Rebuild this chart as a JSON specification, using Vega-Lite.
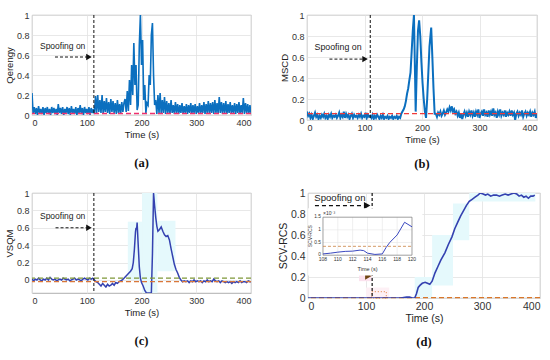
{
"$schema": "https://vega.github.io/schema/vega-lite/v6.json",
"padding": {"left": 4, "top": 10, "right": 4, "bottom": 4},
"spacing": 16,
"datasets": {
"qa": [
{"t":0,"v":0.22},{"t":2,"v":0.02},{"t":4,"v":0.08},{"t":6,"v":0.01},{"t":8,"v":0.07},{"t":10,"v":0.0},{"t":12,"v":0.09},{"t":14,"v":0.02},{"t":16,"v":0.06},{"t":18,"v":0.01},
{"t":20,"v":0.08},{"t":22,"v":0.0},{"t":24,"v":0.07},{"t":26,"v":0.02},{"t":28,"v":0.08},{"t":30,"v":0.01},{"t":32,"v":0.06},{"t":34,"v":0.0},{"t":36,"v":0.08},{"t":38,"v":0.02},
{"t":40,"v":0.07},{"t":42,"v":0.01},{"t":44,"v":0.06},{"t":46,"v":0.0},{"t":48,"v":0.11},{"t":50,"v":0.02},{"t":52,"v":0.07},{"t":54,"v":0.01},{"t":56,"v":0.08},{"t":58,"v":0.0},
{"t":60,"v":0.06},{"t":62,"v":0.02},{"t":64,"v":0.08},{"t":66,"v":0.01},{"t":68,"v":0.07},{"t":70,"v":0.0},{"t":72,"v":0.09},{"t":74,"v":0.02},{"t":76,"v":0.06},{"t":78,"v":0.01},
{"t":80,"v":0.08},{"t":82,"v":0.0},{"t":84,"v":0.07},{"t":86,"v":0.02},{"t":88,"v":0.1},{"t":90,"v":0.01},{"t":92,"v":0.07},{"t":94,"v":0.0},{"t":96,"v":0.08},{"t":98,"v":0.02},
{"t":100,"v":0.06},{"t":102,"v":0.01},{"t":104,"v":0.08},{"t":106,"v":0.0},{"t":108,"v":0.07},{"t":110,"v":0.02},{"t":112,"v":0.06},{"t":114,"v":0.01},{"t":116,"v":0.19},{"t":118,"v":0.02},
{"t":120,"v":0.2},{"t":122,"v":0.03},{"t":124,"v":0.15},{"t":126,"v":0.02},{"t":128,"v":0.2},{"t":130,"v":0.01},{"t":132,"v":0.14},{"t":134,"v":0.03},{"t":136,"v":0.17},{"t":138,"v":0.02},
{"t":140,"v":0.13},{"t":142,"v":0.01},{"t":144,"v":0.16},{"t":146,"v":0.03},{"t":148,"v":0.14},{"t":150,"v":0.02},{"t":152,"v":0.12},{"t":154,"v":0.01},{"t":156,"v":0.15},{"t":158,"v":0.02},
{"t":160,"v":0.11},{"t":162,"v":0.01},{"t":164,"v":0.13},{"t":166,"v":0.03},{"t":168,"v":0.12},{"t":170,"v":0.16},{"t":172,"v":0.03},{"t":174,"v":0.24},{"t":176,"v":0.04},{"t":178,"v":0.35},
{"t":180,"v":0.1},{"t":182,"v":0.5},{"t":184,"v":0.2},{"t":186,"v":0.72},{"t":188,"v":0.3},{"t":190,"v":0.5},{"t":192,"v":0.05},{"t":194,"v":0.1},{"t":196,"v":0.7},{"t":198,"v":1.0},
{"t":200,"v":0.5},{"t":202,"v":0.75},{"t":204,"v":0.15},{"t":206,"v":0.3},{"t":208,"v":0.02},{"t":210,"v":0.12},{"t":212,"v":0.1},{"t":214,"v":0.4},{"t":216,"v":0.3},{"t":218,"v":0.8},
{"t":220,"v":0.92},{"t":222,"v":0.4},{"t":224,"v":0.1},{"t":226,"v":0.15},{"t":228,"v":0.01},{"t":230,"v":0.2},{"t":232,"v":0.02},{"t":234,"v":0.22},{"t":236,"v":0.01},{"t":238,"v":0.15},
{"t":240,"v":0.02},{"t":242,"v":0.18},{"t":244,"v":0.01},{"t":246,"v":0.14},{"t":248,"v":0.02},{"t":250,"v":0.12},{"t":252,"v":0.01},{"t":254,"v":0.15},{"t":256,"v":0.02},{"t":258,"v":0.1},
{"t":260,"v":0.01},{"t":262,"v":0.13},{"t":264,"v":0.02},{"t":266,"v":0.11},{"t":268,"v":0.01},{"t":270,"v":0.1},{"t":272,"v":0.02},{"t":274,"v":0.12},{"t":276,"v":0.01},{"t":278,"v":0.09},
{"t":280,"v":0.02},{"t":282,"v":0.11},{"t":284,"v":0.01},{"t":286,"v":0.1},{"t":288,"v":0.02},{"t":290,"v":0.12},{"t":292,"v":0.01},{"t":294,"v":0.1},{"t":296,"v":0.02},{"t":298,"v":0.11},
{"t":300,"v":0.01},{"t":302,"v":0.09},{"t":304,"v":0.02},{"t":306,"v":0.12},{"t":308,"v":0.01},{"t":310,"v":0.1},{"t":312,"v":0.02},{"t":314,"v":0.13},{"t":316,"v":0.01},{"t":318,"v":0.11},
{"t":320,"v":0.02},{"t":322,"v":0.14},{"t":324,"v":0.01},{"t":326,"v":0.12},{"t":328,"v":0.02},{"t":330,"v":0.13},{"t":332,"v":0.01},{"t":334,"v":0.15},{"t":336,"v":0.02},{"t":338,"v":0.12},
{"t":340,"v":0.01},{"t":342,"v":0.18},{"t":344,"v":0.02},{"t":346,"v":0.13},{"t":348,"v":0.01},{"t":350,"v":0.12},{"t":352,"v":0.02},{"t":354,"v":0.14},{"t":356,"v":0.01},{"t":358,"v":0.11},
{"t":360,"v":0.02},{"t":362,"v":0.13},{"t":364,"v":0.01},{"t":366,"v":0.1},{"t":368,"v":0.02},{"t":370,"v":0.12},{"t":372,"v":0.01},{"t":374,"v":0.11},{"t":376,"v":0.02},{"t":378,"v":0.13},
{"t":380,"v":0.01},{"t":382,"v":0.1},{"t":384,"v":0.02},{"t":386,"v":0.17},{"t":388,"v":0.01},{"t":390,"v":0.12},{"t":392,"v":0.02},{"t":394,"v":0.11},{"t":396,"v":0.01},{"t":398,"v":0.1},{"t":400,"v":0.02}
],
"qb": [
{"t":0,"v":0.08},{"t":2,"v":0.04},{"t":4,"v":0.06},{"t":6,"v":0.02},{"t":8,"v":0.05},{"t":10,"v":0.01},{"t":12,"v":0.04},{"t":14,"v":0.07},{"t":16,"v":0.03},{"t":18,"v":0.05},
{"t":20,"v":0.01},{"t":22,"v":0.04},{"t":24,"v":0.02},{"t":26,"v":0.05},{"t":28,"v":0.03},{"t":30,"v":0.06},{"t":32,"v":0.02},{"t":34,"v":0.04},{"t":36,"v":0.01},{"t":38,"v":0.05},
{"t":40,"v":0.03},{"t":42,"v":0.06},{"t":44,"v":0.02},{"t":46,"v":0.04},{"t":48,"v":0.03},{"t":50,"v":0.05},{"t":52,"v":0.02},{"t":54,"v":0.04},{"t":56,"v":0.07},{"t":58,"v":0.02},
{"t":60,"v":0.05},{"t":62,"v":0.03},{"t":64,"v":0.08},{"t":66,"v":0.02},{"t":68,"v":0.06},{"t":70,"v":0.03},{"t":72,"v":0.05},{"t":74,"v":0.01},{"t":76,"v":0.04},{"t":78,"v":0.06},
{"t":80,"v":0.02},{"t":82,"v":0.05},{"t":84,"v":0.03},{"t":86,"v":0.04},{"t":88,"v":0.02},{"t":90,"v":0.05},{"t":92,"v":0.03},{"t":94,"v":0.06},{"t":96,"v":0.02},{"t":98,"v":0.04},
{"t":100,"v":0.03},{"t":102,"v":0.07},{"t":104,"v":0.02},{"t":106,"v":0.05},{"t":108,"v":0.03},{"t":110,"v":0.04},{"t":112,"v":0.02},{"t":114,"v":0.05},{"t":116,"v":0.01},{"t":118,"v":0.04},
{"t":120,"v":0.02},{"t":122,"v":0.05},{"t":124,"v":0.03},{"t":126,"v":0.01},{"t":128,"v":0.04},{"t":130,"v":0.02},{"t":132,"v":0.05},{"t":134,"v":0.01},{"t":136,"v":0.03},{"t":138,"v":0.02},
{"t":140,"v":0.04},{"t":142,"v":0.01},{"t":144,"v":0.03},{"t":146,"v":0.02},{"t":148,"v":0.04},{"t":150,"v":0.01},{"t":152,"v":0.03},{"t":154,"v":0.02},{"t":156,"v":0.04},{"t":158,"v":0.01},
{"t":160,"v":0.03},{"t":162,"v":0.02},{"t":164,"v":0.06},{"t":166,"v":0.08},{"t":168,"v":0.1},{"t":170,"v":0.13},{"t":172,"v":0.18},{"t":174,"v":0.25},{"t":176,"v":0.3},{"t":178,"v":0.38},
{"t":180,"v":0.45},{"t":182,"v":0.65},{"t":184,"v":0.85},{"t":186,"v":1.0},{"t":188,"v":0.4},{"t":189,"v":0.08},{"t":191,"v":0.5},{"t":193,"v":0.85},{"t":195,"v":0.95},{"t":197,"v":0.8},
{"t":199,"v":0.55},{"t":201,"v":0.35},{"t":203,"v":0.2},{"t":205,"v":0.08},{"t":207,"v":0.02},{"t":209,"v":0.2},{"t":211,"v":0.45},{"t":213,"v":0.7},{"t":216,"v":0.88},{"t":218,"v":0.6},
{"t":220,"v":0.3},{"t":222,"v":0.06},{"t":224,"v":0.06},{"t":226,"v":0.03},{"t":228,"v":0.07},{"t":230,"v":0.05},{"t":232,"v":0.08},{"t":234,"v":0.04},{"t":236,"v":0.06},{"t":238,"v":0.09},
{"t":240,"v":0.05},{"t":242,"v":0.07},{"t":244,"v":0.1},{"t":246,"v":0.08},{"t":248,"v":0.12},{"t":250,"v":0.09},{"t":252,"v":0.13},{"t":254,"v":0.08},{"t":256,"v":0.1},{"t":258,"v":0.06},
{"t":260,"v":0.08},{"t":262,"v":0.04},{"t":264,"v":0.07},{"t":266,"v":0.02},{"t":268,"v":0.06},{"t":270,"v":0.01},{"t":272,"v":0.05},{"t":274,"v":0.08},{"t":276,"v":0.04},{"t":278,"v":0.07},
{"t":280,"v":0.03},{"t":282,"v":0.08},{"t":284,"v":0.05},{"t":286,"v":0.09},{"t":288,"v":0.04},{"t":290,"v":0.07},{"t":292,"v":0.03},{"t":294,"v":0.08},{"t":296,"v":0.05},{"t":298,"v":0.1},
{"t":300,"v":0.02},{"t":302,"v":0.06},{"t":304,"v":0.08},{"t":306,"v":0.04},{"t":308,"v":0.1},{"t":310,"v":0.05},{"t":312,"v":0.07},{"t":314,"v":0.03},{"t":316,"v":0.09},{"t":318,"v":0.05},
{"t":320,"v":0.08},{"t":322,"v":0.04},{"t":324,"v":0.11},{"t":326,"v":0.05},{"t":328,"v":0.07},{"t":330,"v":0.02},{"t":332,"v":0.08},{"t":334,"v":0.05},{"t":336,"v":0.1},{"t":338,"v":0.04},
{"t":340,"v":0.07},{"t":342,"v":0.05},{"t":344,"v":0.09},{"t":346,"v":0.03},{"t":348,"v":0.07},{"t":350,"v":0.05},{"t":352,"v":0.08},{"t":354,"v":0.04},{"t":356,"v":0.09},{"t":358,"v":0.05},
{"t":360,"v":0.07},{"t":362,"v":0.0},{"t":364,"v":0.06},{"t":366,"v":0.08},{"t":368,"v":0.04},{"t":370,"v":0.07},{"t":372,"v":0.05},{"t":374,"v":0.09},{"t":376,"v":0.03},{"t":378,"v":0.06},
{"t":380,"v":0.08},{"t":382,"v":0.04},{"t":384,"v":0.07},{"t":386,"v":0.05},{"t":388,"v":0.08},{"t":390,"v":0.03},{"t":392,"v":0.07},{"t":394,"v":0.05},{"t":396,"v":0.08},{"t":398,"v":0.02},{"t":400,"v":0.06}
],
"qc": [
{"t":0,"v":0.01},{"t":3,"v":-0.01},{"t":6,"v":0.01},{"t":9,"v":0.0},{"t":12,"v":0.02},{"t":15,"v":0.0},{"t":18,"v":-0.01},{"t":21,"v":0.01},{"t":24,"v":0.0},{"t":27,"v":0.02},
{"t":30,"v":0.0},{"t":33,"v":0.03},{"t":36,"v":0.01},{"t":39,"v":0.0},{"t":42,"v":0.01},{"t":45,"v":-0.01},{"t":48,"v":0.0},{"t":51,"v":0.01},{"t":54,"v":0.0},{"t":57,"v":0.02},
{"t":60,"v":0.01},{"t":63,"v":0.0},{"t":66,"v":0.01},{"t":69,"v":-0.01},{"t":72,"v":0.0},{"t":75,"v":0.01},{"t":78,"v":0.02},{"t":81,"v":0.0},{"t":84,"v":0.01},{"t":87,"v":0.0},
{"t":90,"v":-0.01},{"t":93,"v":0.01},{"t":96,"v":0.02},{"t":99,"v":0.01},{"t":102,"v":0.0},{"t":105,"v":0.02},{"t":108,"v":0.01},{"t":111,"v":0.02},{"t":114,"v":0.0},{"t":117,"v":-0.02},
{"t":120,"v":-0.03},{"t":123,"v":-0.05},{"t":126,"v":-0.07},{"t":129,"v":-0.04},{"t":132,"v":-0.06},{"t":135,"v":-0.08},{"t":138,"v":-0.05},{"t":141,"v":-0.07},{"t":144,"v":-0.06},{"t":147,"v":-0.04},
{"t":150,"v":-0.06},{"t":153,"v":-0.03},{"t":156,"v":-0.04},{"t":159,"v":-0.02},{"t":162,"v":-0.01},{"t":165,"v":0.0},{"t":168,"v":0.02},{"t":171,"v":0.04},{"t":174,"v":0.06},{"t":177,"v":0.08},
{"t":180,"v":0.1},{"t":183,"v":0.13},{"t":185,"v":0.2},{"t":187,"v":0.35},{"t":189,"v":0.55},{"t":190,"v":0.6},{"t":191,"v":0.58},{"t":192,"v":0.66},{"t":194,"v":0.4},{"t":196,"v":0.15},
{"t":198,"v":0.02},{"t":200,"v":-0.03},{"t":203,"v":-0.07},{"t":206,"v":-0.12},{"t":209,"v":-0.15},{"t":212,"v":-0.15},{"t":215,"v":-0.15},{"t":218,"v":-0.15},{"t":220,"v":0.3},{"t":222,"v":1.0},
{"t":224,"v":0.85},{"t":226,"v":0.72},{"t":228,"v":0.62},{"t":230,"v":0.56},{"t":233,"v":0.58},{"t":236,"v":0.61},{"t":239,"v":0.56},{"t":242,"v":0.52},{"t":245,"v":0.5},{"t":248,"v":0.51},
{"t":251,"v":0.46},{"t":254,"v":0.36},{"t":257,"v":0.27},{"t":260,"v":0.18},{"t":263,"v":0.12},{"t":266,"v":0.08},{"t":269,"v":0.03},{"t":272,"v":0.0},{"t":275,"v":-0.02},{"t":278,"v":-0.01},
{"t":281,"v":-0.02},{"t":284,"v":-0.01},{"t":287,"v":-0.03},{"t":290,"v":-0.01},{"t":293,"v":-0.02},{"t":296,"v":0.0},{"t":299,"v":-0.02},{"t":302,"v":-0.01},{"t":305,"v":-0.02},{"t":308,"v":-0.01},
{"t":311,"v":-0.03},{"t":314,"v":-0.01},{"t":317,"v":-0.02},{"t":320,"v":0.0},{"t":323,"v":-0.02},{"t":326,"v":-0.01},{"t":329,"v":-0.02},{"t":332,"v":0.01},{"t":335,"v":-0.01},{"t":338,"v":-0.02},
{"t":341,"v":-0.01},{"t":344,"v":-0.03},{"t":347,"v":-0.01},{"t":350,"v":-0.02},{"t":353,"v":-0.03},{"t":356,"v":-0.02},{"t":359,"v":-0.03},{"t":362,"v":-0.02},{"t":365,"v":-0.04},{"t":368,"v":-0.02},
{"t":371,"v":-0.03},{"t":374,"v":-0.02},{"t":377,"v":-0.03},{"t":380,"v":-0.01},{"t":383,"v":-0.03},{"t":386,"v":-0.02},{"t":389,"v":-0.02},{"t":392,"v":-0.03},{"t":395,"v":-0.01},{"t":398,"v":-0.02},{"t":400,"v":-0.02}
],
"qd": [
{"t":0,"v":0.0},{"t":20,"v":0.0},{"t":40,"v":0.0},{"t":60,"v":0.0},{"t":80,"v":0.0},{"t":100,"v":0.0},{"t":120,"v":0.0},{"t":140,"v":0.0},{"t":160,"v":0.0},{"t":165,"v":0.005},
{"t":170,"v":0.01},{"t":175,"v":0.008},{"t":180,"v":0.0},{"t":184,"v":0.0},{"t":187,"v":0.04},{"t":190,"v":0.1},{"t":193,"v":0.12},{"t":197,"v":0.14},{"t":202,"v":0.15},{"t":206,"v":0.14},
{"t":210,"v":0.13},{"t":214,"v":0.16},{"t":219,"v":0.24},{"t":224,"v":0.3},{"t":229,"v":0.36},{"t":236,"v":0.43},{"t":242,"v":0.51},{"t":248,"v":0.58},{"t":253,"v":0.66},{"t":258,"v":0.72},
{"t":263,"v":0.78},{"t":268,"v":0.83},{"t":273,"v":0.88},{"t":278,"v":0.92},{"t":283,"v":0.94},{"t":288,"v":0.96},{"t":293,"v":0.98},{"t":297,"v":1.0},{"t":302,"v":0.99},{"t":306,"v":0.98},
{"t":310,"v":0.99},{"t":315,"v":0.97},{"t":320,"v":0.98},{"t":325,"v":0.98},{"t":330,"v":0.97},{"t":335,"v":0.98},{"t":340,"v":0.99},{"t":345,"v":0.98},{"t":350,"v":0.99},{"t":355,"v":1.0},
{"t":360,"v":0.99},{"t":364,"v":0.97},{"t":368,"v":0.98},{"t":372,"v":0.96},{"t":376,"v":0.97},{"t":380,"v":0.95},{"t":384,"v":0.97},{"t":388,"v":0.97},{"t":391,"v":0.98}
],
"qi": [
{"t":108,"v":0.05},{"t":109,"v":0.08},{"t":110,"v":0.12},{"t":111,"v":0.15},{"t":112,"v":0.16},{"t":113,"v":0.2},{"t":113.5,"v":0.18},{"t":114,"v":0.08},{"t":115,"v":0.03},{"t":116,"v":0.05},
{"t":116.5,"v":0.3},{"t":117,"v":0.5},{"t":118,"v":0.8},{"t":119,"v":1.3},{"t":120,"v":1.12}
]
},
"vconcat": [
{"hconcat": [
{"width": 219, "height": 100,
 "title": {"text": "(a)", "offset": 18},
 "layer": [
  {"data": {"name": "qa"}, "mark": {"type": "line", "color": "#0b6fbf", "strokeWidth": 1.6, "clip": true},
   "encoding": {"x": {"field": "t", "type": "quantitative", "scale": {"domain": [0, 400], "nice": false}, "axis": {"title": "Time (s)", "values": [0, 100, 200, 300, 400], "tickCount": 12}},
                "y": {"field": "v", "type": "quantitative", "scale": {"domain": [0, 1], "nice": false}, "axis": {"title": "Qerengy", "values": [0, 0.2, 0.4, 0.6, 0.8, 1], "format": "~g", "tickCount": 12}}}},
  {"data": {"values": [{"v": 0.015}]}, "mark": {"type": "rule", "color": "#f0306e", "strokeDash": [5, 3], "strokeWidth": 1.3},
   "encoding": {"y": {"field": "v", "type": "quantitative"}}},
  {"data": {"values": [{"t": 113}]}, "mark": {"type": "rule", "color": "#111", "strokeDash": [3, 2], "strokeWidth": 1},
   "encoding": {"x": {"field": "t", "type": "quantitative"}}},
  {"data": {"values": [{"t": 42, "t2": 101, "v": 0.58}]}, "mark": {"type": "rule", "color": "#111", "strokeDash": [3, 2], "strokeWidth": 1},
   "encoding": {"x": {"field": "t", "type": "quantitative"}, "x2": {"field": "t2"}, "y": {"field": "v", "type": "quantitative"}}},
  {"data": {"values": [{"t": 104, "v": 0.58}]}, "mark": {"type": "point", "shape": "triangle-right", "filled": true, "color": "#111", "size": 40, "opacity": 1},
   "encoding": {"x": {"field": "t", "type": "quantitative"}, "y": {"field": "v", "type": "quantitative"}}},
  {"data": {"values": [{"t": 56, "v": 0.69, "label": "Spoofing on"}]}, "mark": {"type": "text", "fontSize": 8.5, "font": "Liberation Sans", "color": "#222"},
   "encoding": {"x": {"field": "t", "type": "quantitative"}, "y": {"field": "v", "type": "quantitative"}, "text": {"field": "label"}}}
 ]},
{"width": 230, "height": 105,
 "title": {"text": "(b)", "offset": 14},
 "layer": [
  {"data": {"name": "qb"}, "mark": {"type": "line", "color": "#0b6fbf", "strokeWidth": 2, "clip": true},
   "encoding": {"x": {"field": "t", "type": "quantitative", "scale": {"domain": [0, 400], "nice": false}, "axis": {"title": "Time (s)", "values": [0, 100, 200, 300, 400], "tickCount": 12}},
                "y": {"field": "v", "type": "quantitative", "scale": {"domain": [0, 1], "nice": false}, "axis": {"title": "MSCD", "values": [0, 0.2, 0.4, 0.6, 0.8, 1], "format": "~g", "tickCount": 12}}}},
  {"data": {"values": [{"v": 0.06}]}, "mark": {"type": "rule", "color": "#f03a3a", "strokeDash": [5, 3], "strokeWidth": 1.3},
   "encoding": {"y": {"field": "v", "type": "quantitative"}}},
  {"data": {"values": [{"t": 110}]}, "mark": {"type": "rule", "color": "#111", "strokeDash": [3, 2], "strokeWidth": 1},
   "encoding": {"x": {"field": "t", "type": "quantitative"}}},
  {"data": {"values": [{"t": 39, "t2": 98, "v": 0.58}]}, "mark": {"type": "rule", "color": "#111", "strokeDash": [3, 2], "strokeWidth": 1},
   "encoding": {"x": {"field": "t", "type": "quantitative"}, "x2": {"field": "t2"}, "y": {"field": "v", "type": "quantitative"}}},
  {"data": {"values": [{"t": 101, "v": 0.58}]}, "mark": {"type": "point", "shape": "triangle-right", "filled": true, "color": "#111", "size": 40, "opacity": 1},
   "encoding": {"x": {"field": "t", "type": "quantitative"}, "y": {"field": "v", "type": "quantitative"}}},
  {"data": {"values": [{"t": 54, "v": 0.7, "label": "Spoofing on"}]}, "mark": {"type": "text", "fontSize": 8.8, "font": "Liberation Sans", "color": "#222"},
   "encoding": {"x": {"field": "t", "type": "quantitative"}, "y": {"field": "v", "type": "quantitative"}, "text": {"field": "label"}}}
 ]}
], "spacing": 26},
{"hconcat": [
{"width": 219, "height": 100,
 "title": {"text": "(c)", "offset": 18},
 "layer": [
  {"data": {"values": [{"t": 175, "t2": 201, "v": 0.0, "v2": 0.67}, {"t": 201, "t2": 229, "v": -0.15, "v2": 1}, {"t": 229, "t2": 262, "v": 0.1, "v2": 0.68}]},
   "mark": {"type": "rect", "color": "#e5f9fc"},
   "encoding": {"x": {"field": "t", "type": "quantitative", "scale": {"domain": [0, 400], "nice": false}, "axis": {"title": "Time (s)", "values": [0, 100, 200, 300, 400], "tickCount": 12}}, "x2": {"field": "t2"},
                "y": {"field": "v", "type": "quantitative", "scale": {"domain": [-0.15, 1], "nice": false, "zero": false}, "axis": {"title": "VSQM", "values": [0, 0.2, 0.4, 0.6, 0.8, 1], "format": "~g", "tickCount": 12}}, "y2": {"field": "v2"}}},
  {"data": {"name": "qc"}, "mark": {"type": "line", "color": "#3441b0", "strokeWidth": 1.5, "clip": true},
   "encoding": {"x": {"field": "t", "type": "quantitative"}, "y": {"field": "v", "type": "quantitative"}}},
  {"data": {"values": [{"v": 0.022}]}, "mark": {"type": "rule", "color": "#7f9838", "strokeDash": [5, 3], "strokeWidth": 1.2},
   "encoding": {"y": {"field": "v", "type": "quantitative"}}},
  {"data": {"values": [{"v": -0.02}]}, "mark": {"type": "rule", "color": "#d9773a", "strokeDash": [5, 3], "strokeWidth": 1.2},
   "encoding": {"y": {"field": "v", "type": "quantitative"}}},
  {"data": {"values": [{"t": 113}]}, "mark": {"type": "rule", "color": "#111", "strokeDash": [3, 2], "strokeWidth": 1},
   "encoding": {"x": {"field": "t", "type": "quantitative"}}},
  {"data": {"values": [{"t": 43, "t2": 101, "v": 0.6}]}, "mark": {"type": "rule", "color": "#111", "strokeDash": [3, 2], "strokeWidth": 1},
   "encoding": {"x": {"field": "t", "type": "quantitative"}, "x2": {"field": "t2"}, "y": {"field": "v", "type": "quantitative"}}},
  {"data": {"values": [{"t": 104, "v": 0.6}]}, "mark": {"type": "point", "shape": "triangle-right", "filled": true, "color": "#111", "size": 40, "opacity": 1},
   "encoding": {"x": {"field": "t", "type": "quantitative"}, "y": {"field": "v", "type": "quantitative"}}},
  {"data": {"values": [{"t": 56, "v": 0.73, "label": "Spoofing on"}]}, "mark": {"type": "text", "fontSize": 8.5, "font": "Liberation Sans", "color": "#222"},
   "encoding": {"x": {"field": "t", "type": "quantitative"}, "y": {"field": "v", "type": "quantitative"}, "text": {"field": "label"}}}
 ]},
{"width": 232, "height": 105,
 "title": {"text": "(d)", "offset": 12},
 "layer": [
  {"layer": [
   {"data": {"values": [{"t": 184, "t2": 214, "v": 0, "v2": 0.2}, {"t": 214, "t2": 250, "v": 0.12, "v2": 0.6}, {"t": 250, "t2": 278, "v": 0.55, "v2": 0.9}, {"t": 278, "t2": 392, "v": 0.92, "v2": 1}]},
    "mark": {"type": "rect", "color": "#e5f9fc"},
    "encoding": {"x": {"field": "t", "type": "quantitative", "scale": {"domain": [0, 400], "nice": false}, "axis": {"title": "Time (s)", "values": [0, 100, 200, 300, 400], "tickCount": 12, "labelFontSize": 10.5, "titleFontSize": 10.5}}, "x2": {"field": "t2"},
                 "y": {"field": "v", "type": "quantitative", "scale": {"domain": [0, 1], "nice": false}, "axis": {"title": "SCV-RCS", "values": [0, 0.2, 0.4, 0.6, 0.8, 1], "format": "~g", "tickCount": 12, "labelFontSize": 10.5, "titleFontSize": 10.5}}, "y2": {"field": "v2"}}},
   {"data": {"values": [{"t": 100, "t2": 140, "v": 0, "v2": 0.1}]}, "mark": {"type": "rect", "color": "#fdf0f5"},
    "encoding": {"x": {"field": "t", "type": "quantitative"}, "x2": {"field": "t2"}, "y": {"field": "v", "type": "quantitative"}, "y2": {"field": "v2"}}},
   {"data": {"values": [{"t": 88, "t2": 110, "v": 0.16, "v2": 0.26}]}, "mark": {"type": "rect", "color": "#fbe2ee"},
    "encoding": {"x": {"field": "t", "type": "quantitative"}, "x2": {"field": "t2"}, "y": {"field": "v", "type": "quantitative"}, "y2": {"field": "v2"}}},
   {"data": {"values": [{"t": 110, "t2": 135, "v": 0.0, "v2": 0.06}]}, "mark": {"type": "rect", "filled": false, "stroke": "#e07b39", "strokeDash": [1, 2], "strokeWidth": 1},
    "encoding": {"x": {"field": "t", "type": "quantitative"}, "x2": {"field": "t2"}, "y": {"field": "v", "type": "quantitative"}, "y2": {"field": "v2"}}},
   {"data": {"values": [{"v": 0.003}]}, "mark": {"type": "rule", "color": "#d9772b", "strokeDash": [5, 3], "strokeWidth": 1.2},
    "encoding": {"y": {"field": "v", "type": "quantitative"}}},
   {"data": {"name": "qd"}, "mark": {"type": "line", "color": "#3441b0", "strokeWidth": 1.6, "clip": true},
    "encoding": {"x": {"field": "t", "type": "quantitative"}, "y": {"field": "v", "type": "quantitative"}}},
   {"data": {"values": [{"t": 110.6}]}, "mark": {"type": "rule", "color": "#111", "strokeDash": [3, 2], "strokeWidth": 1.2},
    "encoding": {"x": {"field": "t", "type": "quantitative"}}},
   {"data": {"values": [{"t": 104, "v": 0.21}]}, "mark": {"type": "point", "shape": "triangle-right", "filled": true, "color": "#6e4512", "size": 55, "opacity": 1},
    "encoding": {"x": {"field": "t", "type": "quantitative"}, "y": {"field": "v", "type": "quantitative"}}},
   {"data": {"values": [{"t": 12, "t2": 98, "v": 0.88}]}, "mark": {"type": "rule", "color": "#111", "strokeDash": [4, 3], "strokeWidth": 1.3},
    "encoding": {"x": {"field": "t", "type": "quantitative"}, "x2": {"field": "t2"}, "y": {"field": "v", "type": "quantitative"}}},
   {"data": {"values": [{"t": 102, "v": 0.88}]}, "mark": {"type": "point", "shape": "triangle-right", "filled": true, "color": "#111", "size": 55, "opacity": 1},
    "encoding": {"x": {"field": "t", "type": "quantitative"}, "y": {"field": "v", "type": "quantitative"}}},
   {"data": {"values": [{"t": 55, "v": 0.955, "label": "Spoofing on"}]}, "mark": {"type": "text", "fontSize": 9.6, "font": "Liberation Sans", "color": "#222"},
    "encoding": {"x": {"field": "t", "type": "quantitative"}, "y": {"field": "v", "type": "quantitative"}, "text": {"field": "label"}}}
  ]},
  {"layer": [
   {"data": {"values": [{"t": 106.0, "t2": 121.4, "v": -0.8, "v2": 1.85}]}, "mark": {"type": "rect", "color": "#ffffff"},
    "encoding": {"x": {"field": "t", "type": "quantitative", "scale": {"domain": [105.98, 137.26], "nice": false, "zero": false}, "axis": null}, "x2": {"field": "t2"},
                 "y": {"field": "v", "type": "quantitative", "scale": {"domain": [-1.69, 2.455], "nice": false, "zero": false}, "axis": null}, "y2": {"field": "v2"}}},
   {"data": {"values": [{"t": 110}, {"t": 112}, {"t": 114}, {"t": 116}, {"t": 118}]}, "mark": {"type": "rule", "color": "#e4e4e4", "strokeWidth": 0.6},
    "encoding": {"x": {"field": "t", "type": "quantitative"}, "y": {"datum": 0}, "y2": {"datum": 1.5}}},
   {"data": {"values": [{"v": 0.5}, {"v": 1}]}, "mark": {"type": "rule", "color": "#e4e4e4", "strokeWidth": 0.6},
    "encoding": {"y": {"field": "v", "type": "quantitative"}, "x": {"datum": 108}, "x2": {"datum": 120}}},
   {"data": {"values": [{"t": 108, "t2": 120, "v": 0, "v2": 1.5}]}, "mark": {"type": "rect", "filled": false, "stroke": "#777", "strokeWidth": 0.7},
    "encoding": {"x": {"field": "t", "type": "quantitative"}, "x2": {"field": "t2"}, "y": {"field": "v", "type": "quantitative"}, "y2": {"field": "v2"}}},
   {"data": {"values": [{"v": 0.35}]}, "mark": {"type": "rule", "color": "#c98040", "strokeDash": [3, 2], "strokeWidth": 0.8},
    "encoding": {"y": {"field": "v", "type": "quantitative"}, "x": {"datum": 108}, "x2": {"datum": 120}}},
   {"data": {"name": "qi"}, "mark": {"type": "line", "color": "#3a48c0", "strokeWidth": 1},
    "encoding": {"x": {"field": "t", "type": "quantitative"}, "y": {"field": "v", "type": "quantitative"}}},
   {"data": {"values": [{"t": 108}, {"t": 110}, {"t": 112}, {"t": 114}, {"t": 116}, {"t": 118}, {"t": 120}]}, "mark": {"type": "text", "fontSize": 5, "font": "Liberation Sans", "color": "#333", "baseline": "top", "dy": 2},
    "encoding": {"x": {"field": "t", "type": "quantitative"}, "y": {"datum": 0}, "text": {"field": "t", "type": "quantitative"}}},
   {"data": {"values": [{"v": 0}, {"v": 0.5}, {"v": 1}, {"v": 1.5}]}, "mark": {"type": "text", "fontSize": 4.8, "font": "Liberation Sans", "color": "#333", "align": "right", "dx": -2},
    "encoding": {"y": {"field": "v", "type": "quantitative"}, "x": {"datum": 108}, "text": {"field": "v", "type": "quantitative", "format": "~g"}}},
   {"data": {"values": [{"label": "×10⁻³"}]}, "mark": {"type": "text", "fontSize": 5, "font": "Liberation Sans", "color": "#333", "align": "left", "baseline": "bottom", "dy": -1},
    "encoding": {"x": {"datum": 108}, "y": {"datum": 1.5}, "text": {"field": "label"}}},
   {"data": {"values": [{"label": "SCV-RCS"}]}, "mark": {"type": "text", "fontSize": 5, "font": "Liberation Sans", "color": "#333", "angle": 270},
    "encoding": {"x": {"datum": 106.3}, "y": {"datum": 0.75}, "text": {"field": "label"}}},
   {"data": {"values": [{"label": "Time (s)"}]}, "mark": {"type": "text", "fontSize": 5.5, "font": "Liberation Sans", "color": "#333"},
    "encoding": {"x": {"datum": 114}, "y": {"datum": -0.55}, "text": {"field": "label"}}}
  ]}
 ],
 "resolve": {"scale": {"x": "independent", "y": "independent"}}}
], "spacing": 26}
],
"config": {
 "view": {"stroke": "#9a9a9a", "strokeWidth": 0.8},
 "axis": {"labelFont": "Liberation Sans", "titleFont": "Liberation Sans", "labelFontSize": 9, "titleFontSize": 9.5, "labelColor": "#333", "titleColor": "#222", "titleFontWeight": "normal", "gridColor": "#e2e2e2", "gridWidth": 0.8, "grid": true, "domain": false, "ticks": false, "labelPadding": 3, "titlePadding": 2, "labelOverlap": false, "tickCount": 12},
 "title": {"font": "Liberation Serif", "fontSize": 12.5, "fontWeight": "bold", "orient": "bottom", "offset": 18, "color": "#111", "anchor": "middle"}
}
}
